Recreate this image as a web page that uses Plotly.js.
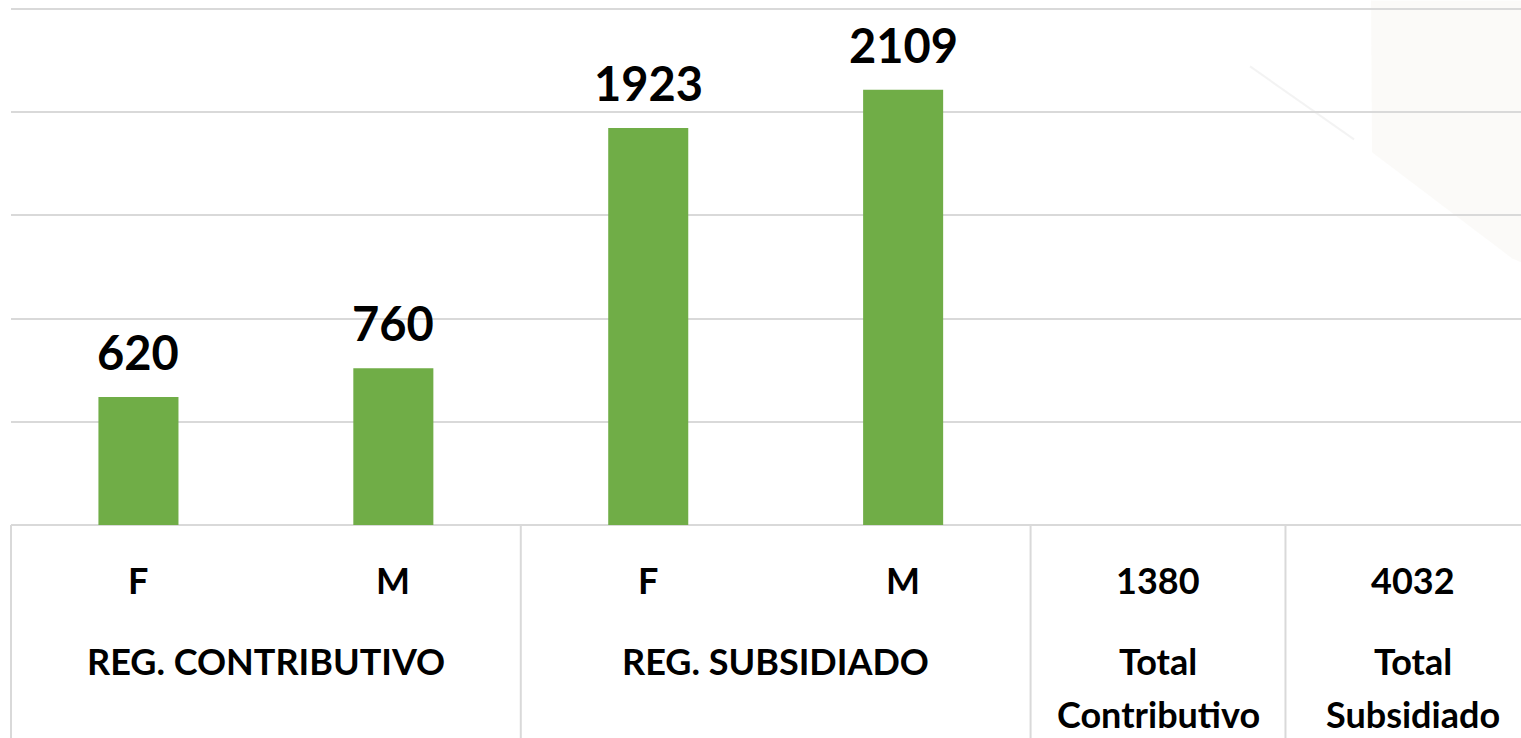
<!DOCTYPE html>
<html>
<head>
<meta charset="utf-8">
<script src="https://cdn.plot.ly/plotly-3.0.1.min.js"></script>
<style>
html,body{margin:0;padding:0;background:#fff;overflow:hidden;}
#chart{width:1521px;height:738px;}
</style>
</head>
<body>
<div id="chart"></div>
<script>
// ---- data ----
const categories = ['F', 'M', 'F ', 'M ', '1380', '4032'];
const tickLabels = ['F', 'M', 'F', 'M', '1380', '4032'];
const values = [620, 760, 1923, 2109, null, null];
const groupLabels = ['REG. CONTRIBUTIVO', 'REG. SUBSIDIADO', 'Total<br>Contributivo', 'Total<br>Subsidiado'];
const groupSpans = [[0, 1], [2, 3], [4, 4], [5, 5]];

// ---- layout constants ----
const W = 1521, H = 738;
const mL = 10.5, mR = 0, mT = 7.5, mB = 213;
const plotH = H - mT - mB;
const plotW = W - mL - mR;
const xRange = [-0.5, 5.424];
const yMax = 2505;
const font = 'Lato, "Open Sans", sans-serif';
const gridColor = '#d9d9d9';

function pxToPaperY(py) { return (H - mB - py) / plotH; }
function pxToPaperX(px) { return (px - mL) / plotW; }
function dataToPaperX(x) { return (x - xRange[0]) / (xRange[1] - xRange[0]); }

const trace = {
  type: 'bar',
  x: categories,
  y: values,
  width: 0.314,
  marker: {color: '#70AD47'},
  hoverinfo: 'skip'
};

const annotations = [];
// data labels
values.forEach((v, i) => {
  if (v == null) return;
  annotations.push({
    x: i, xref: 'x', y: v, yref: 'y',
    text: '<b>' + v + '</b>', showarrow: false,
    xanchor: 'center', yanchor: 'bottom', yshift: 15,
    font: {family: font, size: 47, color: '#000'}
  });
});
// first row of axis labels
tickLabels.forEach((t, i) => {
  annotations.push({
    x: dataToPaperX(i), xref: 'paper', y: pxToPaperY(580), yref: 'paper',
    text: '<b>' + t + '</b>', showarrow: false,
    xanchor: 'center', yanchor: 'middle',
    font: {family: font, size: 36, color: '#000'}
  });
});
// group labels
groupLabels.forEach((g, i) => {
  const mid = (groupSpans[i][0] + groupSpans[i][1]) / 2;
  g.split('<br>').forEach((line, k) => {
    annotations.push({
      x: dataToPaperX(mid), xref: 'paper', y: pxToPaperY(661 + k * 53), yref: 'paper',
      text: '<b>' + line + '</b>', showarrow: false,
      xanchor: 'center', yanchor: 'middle',
      font: {family: font, size: 36, color: '#000'}
    });
  });
});

const shapes = [];
// faint background watermark (top right)
const wm = [[1371, 0], [1521, 0], [1521, 262], [1512, 258], [1372, 152]];
shapes.push({
  type: 'path', xref: 'paper', yref: 'paper', layer: 'below',
  path: 'M' + wm.map(p => pxToPaperX(p[0]) + ',' + pxToPaperY(p[1])).join(' L') + ' Z',
  fillcolor: 'rgba(236,230,222,0.2)', line: {width: 0}
});
shapes.push({
  type: 'line', xref: 'paper', yref: 'paper', layer: 'below',
  x0: pxToPaperX(1250), y0: pxToPaperY(66), x1: pxToPaperX(1354), y1: pxToPaperY(139),
  line: {color: 'rgba(235,235,235,0.6)', width: 2}
});

const yBottom = pxToPaperY(H + 5);
// left border
shapes.push({type: 'line', xref: 'paper', yref: 'paper', x0: 0, x1: 0, y0: 0, y1: yBottom,
  line: {color: gridColor, width: 2}});
// dividers between groups
groupSpans.slice(0, -1).forEach(s => {
  const xp = dataToPaperX(s[1] + 0.5);
  shapes.push({type: 'line', xref: 'paper', yref: 'paper', x0: xp, x1: xp, y0: 0, y1: yBottom,
    line: {color: gridColor, width: 2}});
});

const layout = {
  width: W, height: H,
  margin: {l: mL, r: mR, t: mT, b: mB, pad: 0},
  paper_bgcolor: '#fff', plot_bgcolor: 'rgba(0,0,0,0)',
  showlegend: false,
  xaxis: {
    type: 'category', range: xRange, showticklabels: false, showgrid: false,
    zeroline: false, showline: false, ticks: '', fixedrange: true
  },
  yaxis: {
    range: [0, yMax], dtick: 500, tick0: 0, showticklabels: false,
    showgrid: true, gridcolor: gridColor, gridwidth: 2,
    zeroline: true, zerolinecolor: gridColor, zerolinewidth: 2,
    showline: false, ticks: '', fixedrange: true
  },
  annotations: annotations,
  shapes: shapes
};

Plotly.newPlot('chart', [trace], layout, {displayModeBar: false, staticPlot: true});
</script>
</body>
</html>
